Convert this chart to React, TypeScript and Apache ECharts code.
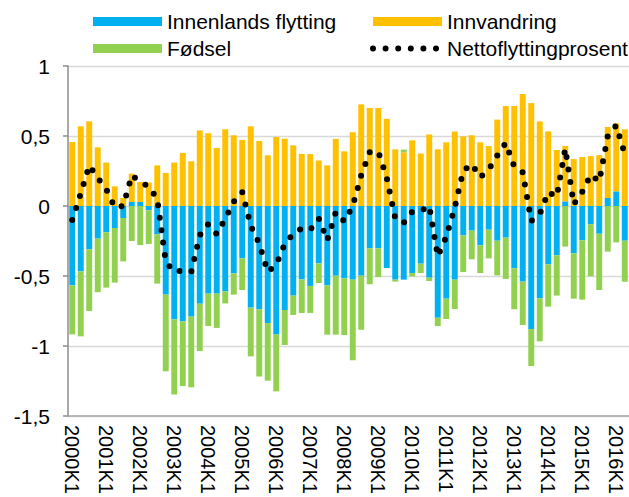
import React, { useEffect, useRef } from "react";
import * as echarts from "echarts";

const years = [2000, 2001, 2002, 2003, 2004, 2005, 2006, 2007, 2008, 2009, 2010, 2011, 2012, 2013, 2014, 2015, 2016];
const quarters = ["K1", "K2", "K3", "K4"];
const categories: string[] = years.flatMap((y) => quarters.map((q) => `${y}${q}`)).slice(0, 66);

const yTicks = [-1.5, -1, -0.5, 0, 0.5, 1];

const innenlands = [
  -0.567, -0.467, -0.31, -0.233, -0.188, -0.157, -0.086, 0.029, 0.029, -0.031,
  -0.202, -0.633, -0.81, -0.824, -0.79, -0.698, -0.626, -0.626, -0.61, -0.481,
  -0.374, -0.726, -0.738, -0.836, -0.917, -0.743, -0.64, -0.524, -0.571, -0.41,
  -0.567, -0.498, -0.517, -0.526, -0.498, -0.302, -0.302, -0.443, -0.526, -0.526,
  -0.479, -0.412, -0.512, -0.798, -0.662, -0.526, -0.21, -0.176, -0.281, -0.169,
  -0.248, -0.226, -0.445, -0.54, -0.879, -0.66, -0.417, -0.352, 0.033, -0.338,
  -0.245, -0.131, -0.198, 0.057, 0.105, -0.248,
];

const innvandring = [
  0.457, 0.569, 0.605, 0.419, 0.31, 0.14, 0.057, 0.202, 0.142, 0.167,
  0.29, 0.236, 0.31, 0.379, 0.319, 0.54, 0.52, 0.415, 0.548, 0.505,
  0.472, 0.569, 0.464, 0.362, 0.493, 0.481, 0.433, 0.372, 0.371, 0.325,
  0.29, 0.479, 0.39, 0.527, 0.726, 0.7, 0.7, 0.623, 0.405, 0.383,
  0.469, 0.375, 0.511, 0.405, 0.455, 0.532, 0.498, 0.505, 0.455, 0.428,
  0.617, 0.714, 0.714, 0.8, 0.735, 0.604, 0.533, 0.4, 0.396, 0.335,
  0.35, 0.356, 0.363, 0.507, 0.485, 0.548,
];

const fodsel = [
  -0.35, -0.464, -0.44, -0.383, -0.395, -0.39, -0.31, -0.25, -0.279, -0.24,
  -0.352, -0.548, -0.536, -0.462, -0.505, -0.338, -0.231, -0.245, -0.086, -0.152,
  -0.226, -0.348, -0.48, -0.412, -0.407, -0.25, -0.138, -0.24, -0.193, -0.14,
  -0.352, -0.421, -0.405, -0.576, -0.386, -0.257, -0.205, 0, -0.014, 0.02,
  -0.024, -0.067, -0.024, -0.06, -0.145, -0.21, -0.262, -0.205, -0.198, -0.205,
  -0.248, -0.295, -0.293, -0.31, -0.264, -0.307, -0.302, -0.288, -0.29, -0.324,
  -0.424, -0.371, -0.402, -0.326, -0.26, -0.293,
];

const netto = [
  -0.1, 0.09, 0.29, 0.2, 0.12, -0.01, 0.0, 0.22, 0.17, 0.14,
  0.05, -0.4, -0.47, -0.46, -0.47, -0.21, -0.13, -0.2, -0.09, 0.03,
  0.1, -0.14, -0.27, -0.47, -0.42, -0.27, -0.2, -0.16, -0.17, -0.09,
  -0.245, -0.045, -0.11, 0.0, 0.22, 0.385, 0.39, 0.2, -0.09, -0.12,
  -0.04, -0.035, 0.0, -0.36, -0.22, -0.01, 0.25, 0.3, 0.205, 0.26,
  0.36, 0.45, 0.28, 0.24, -0.107, -0.06, 0.1, 0.067, 0.41, 0.012,
  0.1, 0.224, 0.176, 0.5, 0.575, 0.37,
];

const FONT = "'Liberation Sans', Arial, sans-serif";

export default function App() {
  const ref = useRef<HTMLDivElement>(null);
  useEffect(() => {
    if (!ref.current) return;
    const chart = echarts.init(ref.current, undefined, { renderer: "svg" });
    const legendText = { fontSize: 21, fontFamily: FONT, color: "#000" };
    const dotLine = { color: "#000", width: 6, type: [0, 12.6], cap: "round", join: "round" };
    chart.setOption({
      animation: false,
      backgroundColor: "#fff",
      grid: { left: 68, right: 0, top: 66, bottom: 81, containLabel: false, outerBoundsMode: "none" },
      legend: [
        {
          orient: "vertical",
          left: 88,
          top: 6,
          itemWidth: 69,
          itemHeight: 9,
          itemGap: 6,
          textStyle: legendText,
          data: [
            { name: "Innenlands flytting", icon: "rect" },
            { name: "Fødsel", icon: "rect" },
          ],
        },
        {
          orient: "vertical",
          left: 365,
          top: 6,
          itemWidth: 69,
          itemHeight: 9,
          itemGap: 6,
          textStyle: legendText,
          data: [
            { name: "Innvandring", icon: "rect" },
            { name: "Nettoflyttingprosent", lineStyle: dotLine, itemStyle: { opacity: 0 } },
          ],
        },
      ],
      xAxis: {
        type: "category",
        data: categories,
        axisLine: { onZero: false, lineStyle: { color: "#a6a6a6", width: 1.5 } },
        axisTick: { show: false },
        axisLabel: {
          interval: 3,
          rotate: -90,
          margin: 9,
          fontSize: 20,
          fontFamily: FONT,
          color: "#000",
          hideOverlap: false,
        },
      },
      yAxis: {
        type: "value",
        min: yTicks[0],
        max: yTicks[yTicks.length - 1],
        interval: 0.5,
        axisLine: { show: true, lineStyle: { color: "#8c8c8c", width: 1.5 } },
        axisTick: { show: true, length: 5, lineStyle: { color: "#8c8c8c", width: 1.5 } },
        splitLine: { lineStyle: { color: "#d9d9d9", width: 1.3 } },
        axisLabel: {
          margin: 18,
          fontSize: 21,
          fontFamily: FONT,
          color: "#000",
          formatter: (v: number) => String(v).replace(".", ","),
        },
      },
      series: [
        {
          name: "Innenlands flytting",
          type: "bar",
          stack: "a",
          data: innenlands,
          barCategoryGap: "30%",
          itemStyle: { color: "#00B0F0" },
        },
        {
          name: "Innvandring",
          type: "bar",
          stack: "a",
          data: innvandring,
          barCategoryGap: "30%",
          itemStyle: { color: "#FFC000" },
        },
        {
          name: "Fødsel",
          type: "bar",
          stack: "a",
          data: fodsel,
          barCategoryGap: "30%",
          itemStyle: { color: "#92D050" },
        },
        {
          name: "Nettoflyttingprosent",
          type: "line",
          data: netto,
          symbol: "none",
          showSymbol: false,
          z: 5,
          itemStyle: { color: "#000" },
          lineStyle: dotLine,
        },
      ],
    });
    return () => chart.dispose();
  }, []);
  return (
    <div
      ref={ref}
      style={{ position: "fixed", left: 0, top: 0, width: 629, height: 497, background: "#fff" }}
    />
  );
}
